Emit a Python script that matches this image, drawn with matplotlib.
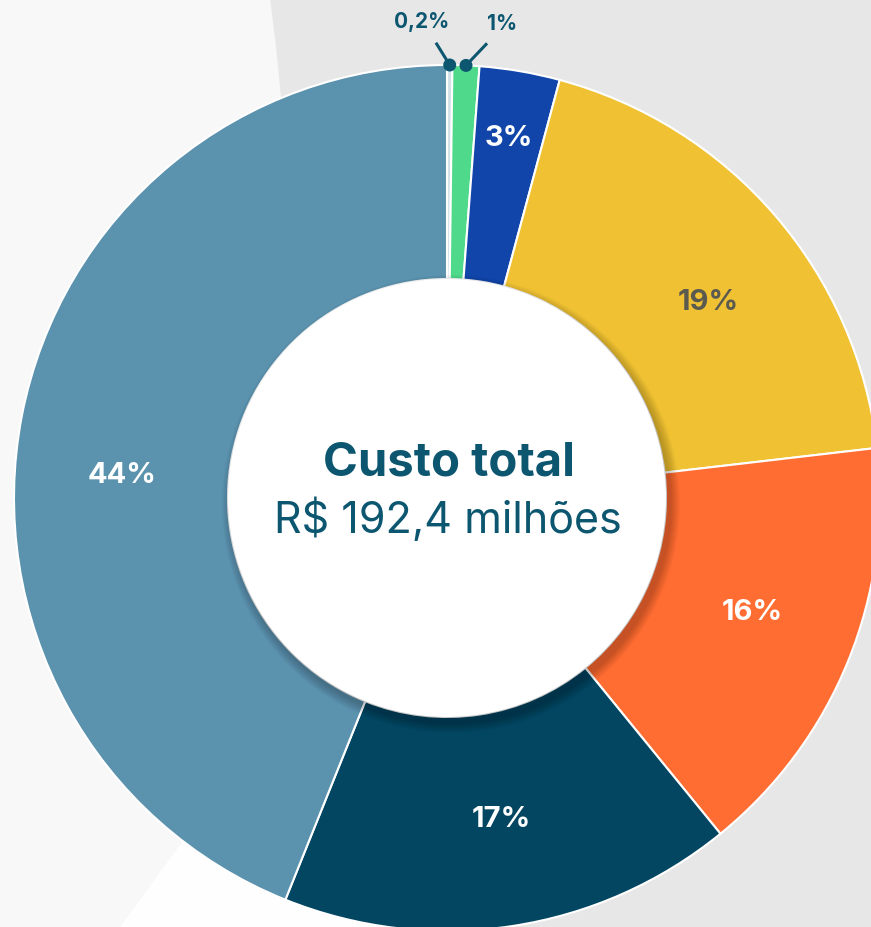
import numpy as np
import matplotlib.pyplot as plt
from matplotlib.patches import Circle, Polygon

# dados do gráfico
labels = ['0,2%', '1%', '3%', '19%', '16%', '17%', '44%']
values = [0.2, 1, 3, 19, 16, 17, 44]
colors = ['#d3e0e7', '#4fd98b', '#1145a9', '#f0c233', '#ff6d33', '#034662', '#5b92ae']
label_colors = [None, None, 'white', '#5b5a4e', 'white', 'white', 'white']
label_shift = [0, 0, 0, -4, 1.5, 1, 7]  # ajuste angular dos rótulos (graus)
title = 'Custo total'
subtitle = 'R$ 192,4 milhões'

W, H = 871, 927
cx, cy = 447, H - 498
r_out, r_in = 433, 219
teal = '#0c5670'

fig = plt.figure(figsize=(W / 100, H / 100), dpi=100)
fig.patch.set_facecolor('#e7e7e7')
ax = fig.add_axes([0, 0, 1, 1])
ax.set_facecolor('#e7e7e7')

# fundo com curvas claras
ax.add_patch(Circle((-2000, H - 300), 2290, color='#f8f8f8', lw=0, zorder=0))
ax.add_patch(Polygon([(215, 130), (120, 0), (420, 0), (420, 250)],
                     closed=True, color='#fefefe', lw=0, zorder=0))

wedges, _ = ax.pie(values, colors=colors, startangle=90, counterclock=False,
                   radius=r_out, center=(cx, cy),
                   wedgeprops=dict(width=r_out - r_in, edgecolor='white', linewidth=1.5))
for w in wedges:
    w.set_zorder(2)

# sombra do círculo central
for k in range(10):
    ax.add_patch(Circle((cx + 4, cy - 6), r_in + 10 - k, color='black',
                        alpha=0.022, lw=0, zorder=3))
ax.add_patch(Circle((cx, cy), r_in, color='white', lw=0, zorder=4))

# rótulos nas fatias
for i, w in enumerate(wedges):
    if label_colors[i] is None:
        continue
    mid = np.deg2rad((w.theta1 + w.theta2) / 2 + label_shift[i])
    dist = 365 if values[i] < 5 else 326
    ax.text(cx + dist * np.cos(mid), cy + dist * np.sin(mid), labels[i],
            ha='center', va='center', fontsize=21, fontweight='bold',
            color=label_colors[i], family='Inter', zorder=5)

# rótulos das fatias pequenas com linhas
small_text = [(422, H - 22), (502, H - 24)]
for i, (tx, ty) in zip([0, 1], small_text):
    w = wedges[i]
    mid = np.deg2rad((w.theta1 + w.theta2) / 2)
    px, py = cx + r_out * np.cos(mid), cy + r_out * np.sin(mid)
    lx = px + (-13 if i == 0 else 20)
    ax.plot([px, lx], [py, py + 21], color=teal, lw=2.2, zorder=6)
    ax.add_patch(Circle((px, py), 6.5, color=teal, lw=0, zorder=7))
    ax.text(tx, ty, labels[i], ha='center', va='center', fontsize=15,
            fontweight='bold', color=teal, family='Inter', zorder=7)

ax.text(cx + 2, H - 463, title, ha='center', va='center', fontsize=34,
        fontweight='bold', color=teal, family='Inter', zorder=6)
ax.text(cx + 1, H - 520, subtitle, ha='center', va='center', fontsize=31,
        fontweight='normal', color=teal, family='Inter', zorder=6)

ax.set_xlim(0, W)
ax.set_ylim(0, H)
ax.set_aspect('equal')
ax.axis('off')

fig.savefig('out.png', dpi=100, facecolor=fig.get_facecolor())
